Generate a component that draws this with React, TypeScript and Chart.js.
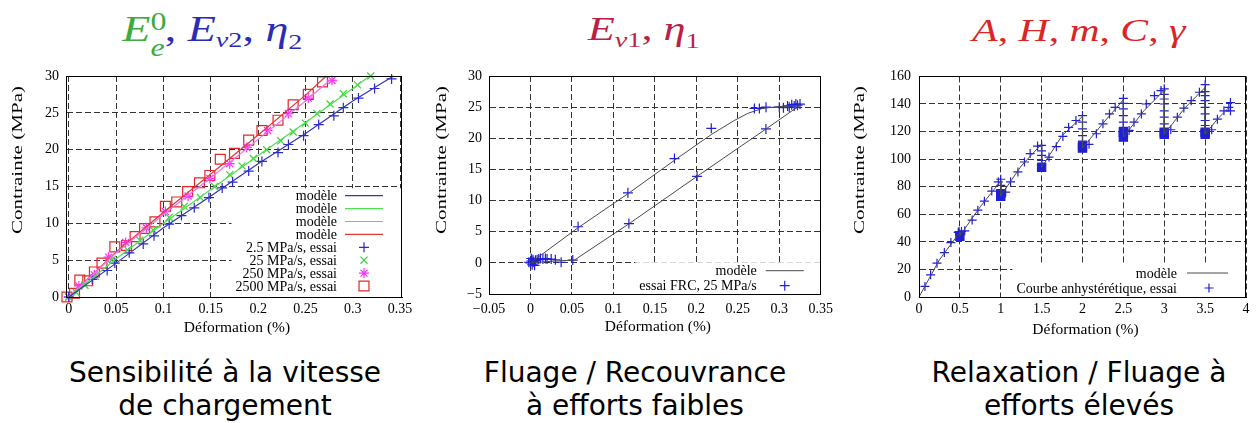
import React, { useEffect, useLayoutEffect, useRef } from 'react';
import { Chart, registerables } from 'chart.js';
Chart.register(...registerables);

const SERIF = '"Liberation Serif", "Times New Roman", Times, serif';
const SANS = '"DejaVu Sans", Verdana, sans-serif';

// ---------------- Chart 1 : Sensibilité à la vitesse de chargement ----------------
const c1XTicks = [0, 0.05, 0.1, 0.15, 0.2, 0.25, 0.3, 0.35];
const c1YTicks = [0, 5, 10, 15, 20, 25, 30];
const c1TestLabels = ['2.5 MPa/s, essai', '25 MPa/s, essai', '250 MPa/s, essai', '2500 MPa/s, essai'];

const model2p5X = [0, 0.05, 0.1, 0.15, 0.2, 0.25, 0.3, 0.343];
const model2p5Y = [0, 4.6, 9.4, 13.7, 18.1, 22.2, 26.6, 30];
const model25X = [0, 0.05, 0.1, 0.15, 0.2, 0.25, 0.3, 0.318];
const model25Y = [0, 5.2, 10.0, 14.6, 19.2, 23.7, 28.3, 30];
const model250X = [0, 0.05, 0.1, 0.15, 0.2, 0.25, 0.281];
const model250Y = [0, 6.0, 11.2, 16.2, 21.4, 26.6, 30];
const model2500X = [0, 0.05, 0.1, 0.15, 0.2, 0.25, 0.272];
const model2500Y = [0, 6.1, 11.5, 16.7, 22.0, 27.4, 30];

const test2p5X = [0, 0.0247, 0.0405, 0.0486, 0.0638, 0.0786, 0.09, 0.106, 0.119, 0.1325, 0.148, 0.162, 0.173, 0.19, 0.204, 0.221, 0.232, 0.248, 0.264, 0.28, 0.29, 0.306, 0.323, 0.341];
const test2p5Y = [0, 2.4, 3.6, 4.6, 6.0, 7.2, 8.3, 9.9, 11.05, 12.1, 13.5, 14.8, 15.6, 17.1, 18.4, 19.6, 20.7, 21.9, 23.4, 24.6, 25.7, 27.0, 28.3, 29.6];
const test25X = [0, 0.008, 0.017, 0.028, 0.046, 0.062, 0.075, 0.089, 0.106, 0.122, 0.139, 0.154, 0.17, 0.183, 0.195, 0.209, 0.224, 0.237, 0.25, 0.262, 0.276, 0.29, 0.305, 0.319];
const test25Y = [0, 0.6, 1.6, 2.8, 5.1, 6.4, 7.7, 9.1, 10.8, 12.3, 13.5, 15.0, 16.6, 17.8, 18.8, 20.0, 21.2, 22.4, 23.6, 24.9, 26.2, 27.6, 28.8, 30.0];
const test250X = [0, 0.0106, 0.027, 0.042, 0.06, 0.082, 0.102, 0.126, 0.149, 0.17, 0.188, 0.21, 0.232, 0.253, 0.278];
const test250Y = [0, 1.5, 3.0, 5.4, 7.4, 9.4, 11.6, 13.7, 16.1, 18.1, 20.3, 22.6, 24.9, 27.0, 29.4];
const test2500X = [-0.002, 0.006, 0.0116, 0.02, 0.027, 0.035, 0.0486, 0.061, 0.07, 0.08, 0.091, 0.102, 0.114, 0.1255, 0.138, 0.149, 0.16, 0.175, 0.19, 0.204, 0.221, 0.237, 0.253, 0.268];
const test2500Y = [0, 0.5, 2.3, 2.2, 3.4, 4.6, 6.8, 7.0, 8.2, 9.3, 10.2, 12.3, 12.9, 14.3, 15.5, 16.5, 18.7, 19.5, 21.3, 22.6, 24.0, 26.1, 27.5, 29.2];

// ---------------- Chart 2 : Fluage / Recouvrance ----------------
const c2XTicks = [-0.05, 0, 0.05, 0.1, 0.15, 0.2, 0.25, 0.3, 0.35];
const c2YTicks = [-5, 0, 5, 10, 15, 20, 25, 30];
const c2ModelX = [0, 0.057, 0.1175, 0.175, 0.218, 0.245, 0.262, 0.28, 0.3, 0.325, 0.284, 0.201, 0.119, 0.053, 0.03, 0];
const c2ModelY = [0, 5.6, 11.1, 16.6, 20.6, 22.8, 24.0, 24.8, 25.1, 25.3, 21.5, 13.9, 6.3, 0.45, 0.3, 0];
const c2TestX = [0, 0.001, 0.002, 0.003, 0.004, 0.005, 0.006, -0.002, 0.001, 0.003, 0.008, 0.01, 0.012, 0.015, 0.018, 0.02, 0.025, 0.03, 0.037, 0.051,
  0.0574, 0.1175, 0.1736, 0.218, 0.27, 0.276, 0.284, 0.3, 0.305, 0.31, 0.312, 0.315, 0.318, 0.32, 0.322, 0.325, 0.2839, 0.2009, 0.1187];
const c2TestY = [0, 0.3, -0.3, 0.5, 0.1, -0.4, 0.4, 0.1, 0.7, 0.2, 0.5, 0.6, 0.7, 0.6, 0.7, 0.6, 0.6, 0.5, 0.1, 0.45,
  5.8, 11.25, 16.75, 21.6, 24.8, 24.8, 25.0, 25.0, 24.9, 25.2, 25.0, 25.4, 25.2, 25.5, 25.3, 25.5, 21.5, 13.9, 6.3];

// ---------------- Chart 3 : Relaxation / Fluage ----------------
const c3XTicks = [0, 0.5, 1, 1.5, 2, 2.5, 3, 3.5, 4];
const c3YTicks = [0, 20, 40, 60, 80, 100, 120, 140, 160];
const c3ModelX = [0, 0.25, 0.5, 0.5, 0.75, 1.0, 1.0, 1.25, 1.5, 1.5, 1.75, 2.0, 2.0, 2.25, 2.5, 2.5, 2.75, 3.0, 3.0, 3.25, 3.5, 3.5, 3.65, 3.8];
const c3ModelY = [0, 27, 47, 44.5, 65.5, 84, 73.5, 95, 111, 94, 117, 131, 108, 126, 143, 116, 135, 150, 118, 137, 152, 118, 129, 138];
const c3TestX = [0.073, 0.142, 0.22, 0.31, 0.39, 0.48, 0.49, 0.5, 0.52,
  0.56, 0.65, 0.72, 0.8, 0.89, 0.97, 1.0, 1.0, 1.0,
  1.06, 1.12, 1.21, 1.29, 1.36, 1.45, 1.5, 1.5, 1.5, 1.5, 1.5,
  1.59, 1.68, 1.76, 1.83, 1.92, 2.0, 2.0, 2.0, 2.0, 2.0,
  2.08, 2.17, 2.25, 2.33, 2.4, 2.5, 2.5, 2.5, 2.5, 2.5, 2.5, 2.5,
  2.57, 2.63, 2.72, 2.78, 2.88, 2.96, 3.0, 3.0, 3.0, 3.0, 3.0, 3.0, 3.0, 3.0,
  3.08, 3.16, 3.24, 3.33, 3.43, 3.5, 3.5, 3.5, 3.5, 3.5, 3.5, 3.5, 3.5, 3.5,
  3.58, 3.65, 3.73, 3.79, 3.81, 3.81];
const c3TestY = [7.7, 16.1, 24.5, 32.2, 39.5, 46.9, 47.5, 45.5, 47.5,
  48, 55.8, 63, 69.5, 76.8, 83.5, 85.4, 81, 77,
  76, 83.5, 90.7, 97.9, 104, 109.5, 110, 106, 102.7, 99, 97,
  101.5, 109, 116.5, 123, 128, 131.6, 126.8, 122, 117, 113,
  110.7, 118.4, 125.6, 132.8, 137.6, 144, 140.5, 136.4, 131.6, 126.8, 123, 120,
  120.8, 126.8, 132.8, 140, 146, 149.7, 151, 147, 143.6, 140, 135, 130.4, 125.6, 122,
  121.3, 130.4, 137, 142.4, 148.5, 154, 149, 146, 142.4, 137.6, 132.8, 128, 124.4, 121,
  121.3, 129, 135, 137.6, 141, 135];
const c3RelaxX = [0.5, 1.0, 1.0, 1.5, 2.0, 2.0, 2.5, 2.5, 3.0, 3.0, 3.5, 3.5];
const c3RelaxY = [44, 73, 75, 94, 108, 109.5, 116, 119.5, 118, 119.5, 118, 119.5];

// ---------------- helpers ----------------
const pts = (xs: number[], ys: number[]) => xs.map((x, i) => ({ x, y: ys[i] }));
const fmt = (v: number) => String(Math.round(v * 1000) / 1000).replace('-', '\u2212');

function drawMark(ctx: CanvasRenderingContext2D, style: string, x: number, y: number, r: number, color: string, fill: boolean) {
  ctx.save();
  ctx.strokeStyle = color;
  ctx.fillStyle = color;
  ctx.lineWidth = 1.2;
  ctx.setLineDash([]);
  ctx.beginPath();
  if (style === 'cross' || style === 'star') {
    ctx.moveTo(x - r, y); ctx.lineTo(x + r, y); ctx.moveTo(x, y - r); ctx.lineTo(x, y + r);
  }
  if (style === 'crossRot' || style === 'star') {
    const d = r * Math.SQRT1_2;
    ctx.moveTo(x - d, y - d); ctx.lineTo(x + d, y + d); ctx.moveTo(x + d, y - d); ctx.lineTo(x - d, y + d);
  }
  if (style === 'rect') {
    const s = r * Math.SQRT1_2;
    ctx.rect(x - s, y - s, 2 * s, 2 * s);
    if (fill) ctx.fill();
  }
  ctx.stroke();
  ctx.restore();
}

type Deco = {
  textOff: number; lineFrom: number; lineTo: number; markOff: number; rowGap: number; lastOff: number;
  xTitleY: number; yTitleX: number; yTitleY: number; yTitleLen: number;
};

function makeDeco(cfg: Deco) {
  return {
    id: 'deco',
    afterDraw(chart: any) {
      const ctx: CanvasRenderingContext2D = chart.ctx;
      const a = chart.chartArea;
      ctx.save();
      // legend (gnuplot key)
      const items = chart.data.datasets.filter((d: any) => d.label);
      ctx.font = `14px ${SERIF}`;
      const maxW = Math.max(...items.map((d: any) => ctx.measureText(d.label).width));
      const textRight = a.right - cfg.textOff;
      const lastY = a.bottom - cfg.lastOff;
      const firstY = lastY - (items.length - 1) * cfg.rowGap;
      const boxL = textRight - maxW - 4;
      const boxT = firstY - cfg.rowGap / 2 - 1;
      ctx.fillStyle = '#fff';
      ctx.fillRect(boxL, boxT, a.right - boxL, a.bottom - boxT);
      items.forEach((d: any, i: number) => {
        const y = firstY + i * cfg.rowGap;
        ctx.fillStyle = '#000';
        ctx.textAlign = 'right';
        ctx.textBaseline = 'middle';
        ctx.fillText(d.label, textRight, y + 1);
        if (d.showLine) {
          ctx.strokeStyle = d.borderColor;
          ctx.lineWidth = d.borderWidth || 1.2;
          ctx.setLineDash([]);
          ctx.beginPath();
          ctx.moveTo(a.right - cfg.lineFrom, y);
          ctx.lineTo(a.right - cfg.lineTo, y);
          ctx.stroke();
        } else {
          drawMark(ctx, d.pointStyle, a.right - cfg.markOff, y, d.pointRadius, d.borderColor, false);
        }
      });
      // frame
      ctx.strokeStyle = '#000';
      ctx.lineWidth = 1;
      ctx.setLineDash([]);
      ctx.strokeRect(Math.round(a.left) + 0.5, Math.round(a.top) + 0.5, Math.round(a.right - a.left) - 1, Math.round(a.bottom - a.top));
      // axis titles
      ctx.fillStyle = '#000';
      ctx.font = `15.5px ${SERIF}`;
      ctx.textAlign = 'center';
      ctx.textBaseline = 'middle';
      ctx.fillText('Déformation (%)', (a.left + a.right) / 2 + 3, cfg.xTitleY);
      const yt = 'Contrainte (MPa)';
      const w = ctx.measureText(yt).width;
      ctx.translate(cfg.yTitleX, cfg.yTitleY);
      ctx.rotate(-Math.PI / 2);
      ctx.scale(cfg.yTitleLen / w, 1);
      ctx.fillText(yt, 0, 0);
      ctx.restore();
    },
  };
}

function axis(min: number, max: number, ticks: number[], pad: number, key: 'width' | 'height', size: number) {
  return {
    type: 'linear',
    min,
    max,
    afterBuildTicks: (s: any) => { s.ticks = ticks.map((v) => ({ value: v })); },
    afterFit: (s: any) => { s[key] = size; },
    ticks: { autoSkip: false, maxRotation: 0, minRotation: 0, padding: pad, color: '#000', font: { family: SERIF, size: 14 }, callback: (v: any) => fmt(Number(v)) },
    grid: { color: '#333333', lineWidth: 1, drawTicks: false, borderDash: [6, 3] },
    border: { display: true, color: '#000', width: 1, dash: [6, 3] },
    title: { display: false },
  };
}

const modelDs = (label: string, xs: number[], ys: number[], color: string, width = 1.2) => ({
  label, data: pts(xs, ys), showLine: true, pointRadius: 0, borderColor: color, backgroundColor: color, borderWidth: width, clip: false,
});
const markDs = (label: string, xs: number[], ys: number[], color: string, style: string, r: number, fill = false) => ({
  label, data: pts(xs, ys), showLine: false, pointStyle: style, pointRadius: r, borderColor: color,
  backgroundColor: fill ? color : 'rgba(0,0,0,0)', borderWidth: 1.2, pointBorderWidth: 1.2, clip: false,
});

function config(datasets: any[], pad: any, x: any, y: any, deco: Deco): any {
  return {
    type: 'scatter',
    data: { datasets },
    options: {
      responsive: false,
      animation: false,
      events: [],
      layout: { padding: pad },
      plugins: { legend: { display: false }, tooltip: { enabled: false }, title: { display: false } },
      scales: { x, y },
    },
    plugins: [makeDeco(deco)],
  };
}

const build1 = () => config(
  [
    modelDs('modèle', model2p5X, model2p5Y, '#3434b8'),
    modelDs('modèle', model25X, model25Y, '#4ee04e'),
    modelDs('modèle', model250X, model250Y, '#f070f0'),
    modelDs('modèle', model2500X, model2500Y, '#e03838'),
    markDs(c1TestLabels[0], test2p5X, test2p5Y, '#2a2ad0', 'cross', 5),
    markDs(c1TestLabels[1], test25X, test25Y, '#3cd23c', 'crossRot', 5),
    markDs(c1TestLabels[2], test250X, test250Y, '#ff30ff', 'star', 5),
    markDs(c1TestLabels[3], test2500X, test2500Y, '#e02828', 'rect', 7),
  ],
  { left: 0, right: 18, top: 16, bottom: 0 },
  axis(-0.003, 0.352, c1XTicks, 4, 'height', 43),
  axis(0, 30, c1YTicks, 7, 'width', 66),
  { textOff: 65, lineFrom: 57, lineTo: 19, markOff: 38, rowGap: 12.9, lastOff: 11, xTitleY: 268, yTitleX: 18, yTitleY: 100, yTitleLen: 148 },
);

const build2 = () => config(
  [
    modelDs('modèle', c2ModelX, c2ModelY, '#4a4a4a', 1),
    markDs('essai FRC, 25 MPa/s', c2TestX, c2TestY, '#1f1fd6', 'cross', 5),
  ],
  { left: 0, right: 18, top: 16, bottom: 0 },
  axis(-0.05, 0.35, c2XTicks, 7, 'height', 46),
  axis(-5, 30, c2YTicks, 7, 'width', 69),
  { textOff: 64, lineFrom: 55, lineTo: 17, markOff: 36, rowGap: 15, lastOff: 8.3, xTitleY: 267, yTitleX: 22, yTitleY: 100, yTitleLen: 148 },
);

const build3 = () => config(
  [
    modelDs('modèle', c3ModelX, c3ModelY, '#4a4a4a', 1),
    markDs('Courbe anhystérétique, essai', c3TestX, c3TestY, '#1f1fd6', 'cross', 4.5),
    markDs('', c3RelaxX, c3RelaxY, '#1f1fd6', 'rect', 5.8, true),
  ],
  { left: 0, right: 14, top: 16, bottom: 0 },
  axis(0, 4, c3XTicks, 4, 'height', 43),
  axis(0, 160, c3YTicks, 8, 'width', 79),
  { textOff: 69, lineFrom: 59, lineTo: 18, markOff: 37, rowGap: 15, lastOff: 9, xTitleY: 270, yTitleX: 20, yTitleY: 100, yTitleLen: 148 },
);

function ChartBox({ left, top, width, height, build }: { left: number; top: number; width: number; height: number; build: () => any }) {
  const ref = useRef<HTMLCanvasElement>(null);
  useEffect(() => {
    const chart = new Chart(ref.current as HTMLCanvasElement, build());
    return () => chart.destroy();
  }, []);
  return <canvas ref={ref} width={width} height={height} style={{ position: 'absolute', left, top, width, height }} />;
}

function FitText({ x0, x1, baseline, fs, family, italic, children }: { x0: number; x1: number; baseline: number; fs: number; family: string; italic?: boolean; children: any }) {
  const ref = useRef<HTMLSpanElement>(null);
  useLayoutEffect(() => {
    const el = ref.current;
    if (!el) return;
    el.style.transform = 'none';
    const w = el.getBoundingClientRect().width;
    if (w > 0) el.style.transform = `scaleX(${(x1 - x0) / w})`;
  }, []);
  const L = Math.round(fs * 1.2);
  const top = baseline - ((L - 1.107 * fs) / 2 + 0.891 * fs);
  const cx = (x0 + x1) / 2;
  return (
    <div style={{ position: 'absolute', left: cx - 300, width: 600, top, textAlign: 'center', lineHeight: `${L}px`, whiteSpace: 'nowrap', fontFamily: family, fontSize: fs, fontStyle: italic ? 'italic' : 'normal' }}>
      <span ref={ref} style={{ display: 'inline-block', transformOrigin: 'center' }}>{children}</span>
    </div>
  );
}

const sc = (t: string, dy: number, size: number, italic = false, ml = 0) => (
  <span style={{ fontSize: size, position: 'relative', top: dy, lineHeight: 0, fontStyle: italic ? 'italic' : 'normal', marginLeft: ml }}>{t}</span>
);
const up = (t: string) => <span style={{ fontStyle: 'normal' }}>{t}</span>;

const GREEN = '#3dab3d';
const BLUE = '#2b2bb5';
const CRIMSON = '#bb1f48';
const RED = '#dd2424';

const captionStyle: any = { position: 'absolute', width: 420, textAlign: 'center', fontFamily: SANS, fontSize: 28, lineHeight: '33px', color: '#000', top: 356 };

export default function App() {
  return (
    <div style={{ position: 'absolute', left: 0, top: 0, width: 1260, height: 423, background: '#fff', overflow: 'hidden' }}>
      <FitText x0={122} x1={302} baseline={42} fs={36} family={SERIF} italic>
        <span style={{ color: GREEN }}>E{sc('0', -11, 25)}{sc('e', 15, 25, true, -12.5)}</span>
        <span style={{ color: BLUE }}>{up(', ')}E{sc('v', 6, 22, true)}{sc('2', 6, 22)}{up(', ')}η{sc('2', 8, 22)}</span>
      </FitText>
      <FitText x0={588} x1={700} baseline={40} fs={33} family={SERIF} italic>
        <span style={{ color: CRIMSON }}>E{sc('v', 7, 21, true)}{sc('1', 7, 21)}{up(', ')}η{sc('1', 8, 21)}</span>
      </FitText>
      <FitText x0={972} x1={1185} baseline={41} fs={32} family={SERIF} italic>
        <span style={{ color: RED }}>A{up(', ')}H{up(', ')}m{up(', ')}C{up(', ')}γ</span>
      </FitText>

      <ChartBox left={0} top={60} width={420} height={280} build={build1} />
      <ChartBox left={420} top={60} width={420} height={280} build={build2} />
      <ChartBox left={840} top={60} width={420} height={280} build={build3} />

      <div style={{ ...captionStyle, left: 225 - 210 }}>Sensibilité à la vitesse<br />de chargement</div>
      <div style={{ ...captionStyle, left: 635 - 210 }}>Fluage / Recouvrance<br />à efforts faibles</div>
      <div style={{ ...captionStyle, left: 1079 - 210 }}>Relaxation / Fluage à<br />efforts élevés</div>
    </div>
  );
}
